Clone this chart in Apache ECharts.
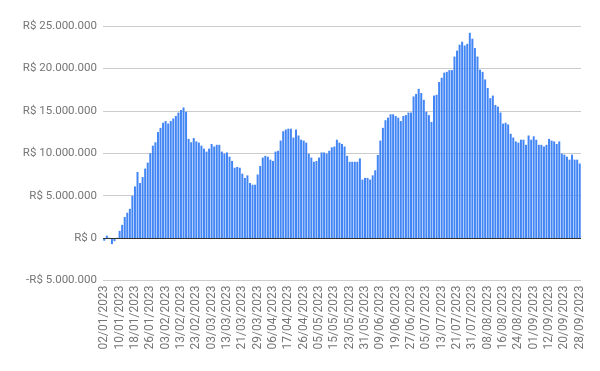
<!DOCTYPE html>
<html>
<head>
<meta charset="utf-8">
<script src="https://cdn.jsdelivr.net/npm/echarts@6/dist/echarts.min.js"></script>
<style>
html,body{margin:0;padding:0;background:#fff;}
#chart{width:600px;height:371px;}
</style>
</head>
<body>
<div id="chart"></div>
<script>
// Business-day range shown on the category axis
const startDate = '2023-01-02';
const endDate = '2023-09-28';
const holidays = ['2023-02-20','2023-02-21','2023-04-07','2023-04-21','2023-05-01','2023-06-08','2023-09-07'];

// Daily values in R$ millions
const values_jan_feb = [-0.3, 0.3, 0.05, -0.7, -0.35, 0.05, 0.86, 1.57, 2.5, 3.0,
  3.46, 5.0, 6.1, 7.8, 6.5, 7.2, 8.2, 8.9, 10.0, 10.9,
  11.3, 12.5, 13.0, 13.6, 13.8, 13.5, 13.8, 14.1, 14.4, 14.8,
  15.1, 15.4, 14.9, 11.7, 11.3, 11.8, 11.4];
const values_feb_apr = [11.26, 10.9, 10.55, 10.2, 10.55, 11.1, 10.8, 11.0, 11.0, 10.2,
  9.96, 10.1, 9.6, 9.1, 8.3, 8.4, 8.3, 7.6, 7.1, 7.4,
  6.5, 6.3, 6.3, 7.5, 8.5, 9.5, 9.7, 9.6, 9.25, 9.1,
  10.2, 10.3, 11.5, 12.6, 12.8, 12.9, 12.9, 11.85, 12.8, 12.1,
  11.6, 11.5, 11.26, 9.96];
const values_may_jun = [9.5, 9.0, 9.1, 9.5, 10.1, 10.1, 9.96, 10.3, 10.7, 10.8,
  11.6, 11.26, 11.1, 10.8, 9.7, 9.0, 9.0, 9.0, 9.0, 9.4,
  6.9, 7.1, 7.1, 6.9, 7.4, 8.0, 9.8, 11.5, 13.0, 13.9,
  14.2, 14.6, 14.6, 14.4, 14.2, 13.8, 14.4, 14.5, 14.8];
const values_jul = [14.8, 16.7, 17.0, 17.6, 17.1, 16.3, 14.9, 14.5, 13.7, 16.8,
  16.9, 18.4, 18.9, 19.5, 19.6, 19.8, 19.8];
const values_jul_aug = [21.4, 22.1, 22.8, 23.15, 22.7, 22.9, 24.2, 23.5, 22.4, 21.4,
  19.85, 19.6, 18.7, 17.7, 16.5, 16.8, 15.7, 15.5, 14.8];
const values_aug_sep = [13.5, 13.6, 13.4, 12.3, 11.85, 11.4, 11.26, 11.6, 11.6, 11.0,
  12.1, 11.6, 12.0, 11.6, 11.0, 11.0, 10.8, 11.0, 11.7, 11.5,
  11.4, 11.1, 11.4, 9.96, 9.84, 9.6, 9.25, 9.84, 9.25, 9.25, 8.8];

// Y axis ticks (R$)
const yMin = -5000000, yMax = 25000000, yStep = 5000000;

function pad(n){ return (n < 10 ? '0' : '') + n; }
function isoOf(d){ return d.getUTCFullYear() + '-' + pad(d.getUTCMonth()+1) + '-' + pad(d.getUTCDate()); }
const categories = [];
for (let d = new Date(startDate + 'T00:00:00Z'); isoOf(d) <= endDate; d.setUTCDate(d.getUTCDate()+1)) {
  const wd = d.getUTCDay();
  const iso = isoOf(d);
  if (wd === 0 || wd === 6 || holidays.indexOf(iso) >= 0) continue;
  categories.push(pad(d.getUTCDate()) + '/' + pad(d.getUTCMonth()+1) + '/' + d.getUTCFullYear());
}
const valuesM = [].concat(values_jan_feb, values_feb_apr, values_may_jun, values_jul, values_jul_aug, values_aug_sep);
const seriesData = valuesM.map(v => Math.round(v * 1000000));

function fmtBRL(v){
  const s = Math.abs(Math.round(v)).toString().replace(/\B(?=(\d{3})+(?!\d))/g, '.');
  return (v < 0 ? '-' : '') + 'R$ ' + s;
}

const chart = echarts.init(document.getElementById('chart'), null, {renderer: 'canvas'});
chart.setOption({
  animation: false,
  backgroundColor: '#ffffff',
  textStyle: {fontFamily: 'Roboto'},
  grid: {left: 103, right: 19, top: 26, bottom: 90.4, containLabel: false},
  xAxis: {
    type: 'category',
    data: categories,
    boundaryGap: true,
    axisLine: {show: false, onZero: false},
    axisTick: {show: false},
    splitLine: {show: false},
    axisLabel: {
      interval: 5,
      rotate: 90,
      margin: 5,
      color: '#757575',
      fontFamily: 'Roboto',
      fontSize: 12
    }
  },
  yAxis: {
    type: 'value',
    min: yMin,
    max: yMax,
    interval: yStep,
    axisLine: {show: false},
    axisTick: {show: false},
    splitLine: {show: true, lineStyle: {color: '#cccccc', width: 1}},
    axisLabel: {
      margin: 6,
      color: '#757575',
      fontFamily: 'Roboto',
      fontSize: 11.5,
      formatter: fmtBRL
    }
  },
  series: [{
    type: 'bar',
    data: seriesData,
    barCategoryGap: '22%',
    itemStyle: {color: '#4285f4'},
    markLine: {
      silent: true,
      symbol: ['none', 'none'],
      label: {show: false},
      lineStyle: {color: '#333333', width: 1, type: 'solid'},
      data: [{yAxis: 0}]
    }
  }]
});
</script>
</body>
</html>
